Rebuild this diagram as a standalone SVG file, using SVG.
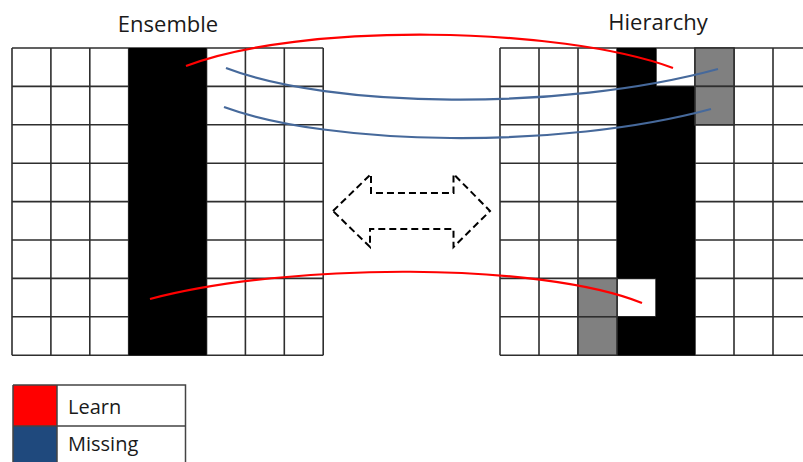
<svg xmlns="http://www.w3.org/2000/svg" width="803" height="462" viewBox="0 0 803 462">
<style>
.grid{stroke:#2e2e2e;stroke-width:1.6;fill:none}
.blk{fill:#000}
.gry{fill:#808080;stroke:#2e2e2e;stroke-width:1.6}
.title{font-family:"Open Sans",sans-serif;font-size:22px;fill:#1a1a1a;text-anchor:middle}
.leg{font-family:"Open Sans",sans-serif;font-size:20px;fill:#1a1a1a}
.red{stroke:#ff0000;stroke-width:2.2;fill:none}
.blue{stroke:#46699b;stroke-width:2.2;fill:none}
</style>
<rect width="803" height="462" fill="#fff"/>
<g id="ensemble">
<text class="title" x="168" y="32">Ensemble</text>
<path class="grid" d="M12,48V355.2M50.9,48V355.2M89.8,48V355.2M128.7,48V355.2M167.6,48V355.2M206.5,48V355.2M245.4,48V355.2M284.3,48V355.2M323.2,48V355.2M12,48H323.2M12,86.4H323.2M12,124.8H323.2M12,163.2H323.2M12,201.6H323.2M12,240H323.2M12,278.4H323.2M12,316.8H323.2M12,355.2H323.2"/>
<rect class="blk" x="128.7" y="48" width="77.8" height="307.2"/>
</g>
<g id="hierarchy">
<text class="title" x="658" y="30">Hierarchy</text>
<path class="grid" d="M500,48V355.2M539,48V355.2M578,48V355.2M617,48V355.2M656,48V355.2M695,48V355.2M734,48V355.2M773,48V355.2M500,48H812M500,86.4H812M500,124.8H812M500,163.2H812M500,201.6H812M500,240H812M500,278.4H812M500,316.8H812M500,355.2H812"/>
<path class="blk" d="M617,48H656V86.4H695V355.2H617V316.8H656V278.4H617Z"/>
<rect class="gry" x="695" y="48" width="39" height="38.4"/>
<rect class="gry" x="695" y="86.4" width="39" height="38.4"/>
<rect class="gry" x="578" y="278.4" width="39" height="38.4"/>
<rect class="gry" x="578" y="316.8" width="39" height="38.4"/>
</g>
<g id="double-arrow">
<path d="M333,211L371,174V193H453.5V174L490,211L453.5,247V229H370V247Z" fill="none" stroke="#000" stroke-width="2" stroke-dasharray="7,4"/>
</g>
<g id="connectors">
<path class="red" d="M186,66C300,22 560,26 673,68"/>
<path class="red" d="M150,299C290,262 540,262 642,303"/>
<path class="blue" d="M226,68C330,108 560,112 718,69"/>
<path class="blue" d="M224,107C330,146 560,150 711,109"/>
</g>
<g id="legend">
<rect x="13" y="385" width="44" height="41" fill="#ff0000"/>
<rect x="13" y="426" width="44" height="40" fill="#1f497d"/>
<path d="M13,385H185.5V466M13,385V466M57,385V466M13,426H185.5" fill="none" stroke="#444" stroke-width="1.5"/>
<text class="leg" x="68" y="414">Learn</text>
<text class="leg" x="68" y="451">Missing</text>
</g>
</svg>
